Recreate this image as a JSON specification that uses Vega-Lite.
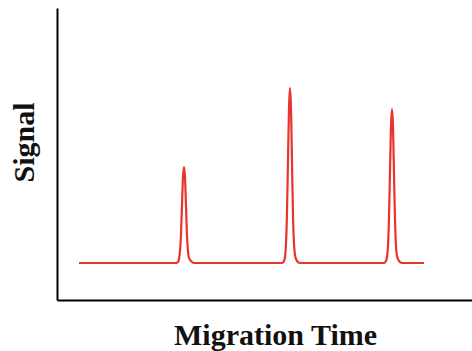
{
  "$schema": "https://vega.github.io/schema/vega-lite/v6.json",
  "autosize": {"type": "none"},
  "width": 415,
  "height": 292,
  "padding": {"left": 57, "top": 8, "right": 0, "bottom": 51},
  "background": "white",
  "config": {"view": {"stroke": null}},
  "data": {"values": [
    {"t": 22, "s": 37}, {"t": 60, "s": 37}, {"t": 100, "s": 37},
    {"t": 119, "s": 37}, {"t": 121, "s": 38}, {"t": 122, "s": 41}, {"t": 123, "s": 49}, {"t": 124, "s": 66}, {"t": 125, "s": 95}, {"t": 126, "s": 123}, {"t": 127, "s": 133}, {"t": 128, "s": 123}, {"t": 129, "s": 94}, {"t": 130, "s": 64}, {"t": 131, "s": 49}, {"t": 132, "s": 42}, {"t": 134, "s": 39}, {"t": 137, "s": 37},
    {"t": 170, "s": 37}, {"t": 200, "s": 37},
    {"t": 225, "s": 37}, {"t": 227, "s": 39}, {"t": 228, "s": 43}, {"t": 229, "s": 56}, {"t": 230, "s": 88}, {"t": 231, "s": 140}, {"t": 232, "s": 192}, {"t": 233, "s": 212}, {"t": 234, "s": 192}, {"t": 235, "s": 138}, {"t": 236, "s": 85}, {"t": 237, "s": 56}, {"t": 238, "s": 45}, {"t": 240, "s": 39}, {"t": 243, "s": 37},
    {"t": 270, "s": 37}, {"t": 300, "s": 37},
    {"t": 327, "s": 37}, {"t": 329, "s": 39}, {"t": 330, "s": 43}, {"t": 331, "s": 54}, {"t": 332, "s": 82}, {"t": 333, "s": 128}, {"t": 334, "s": 174}, {"t": 335, "s": 191}, {"t": 336, "s": 174}, {"t": 337, "s": 126}, {"t": 338, "s": 80}, {"t": 339, "s": 54}, {"t": 340, "s": 44}, {"t": 342, "s": 39}, {"t": 345, "s": 37},
    {"t": 367, "s": 37}
  ]},
  "mark": {"type": "line", "color": "#e8342c", "strokeWidth": 2.2, "interpolate": "monotone"},
  "encoding": {
    "x": {"field": "t", "type": "quantitative", "scale": {"domain": [0, 415], "nice": false, "zero": false},
      "axis": {"title": "Migration Time", "labels": false, "ticks": false, "grid": false, "domain": true, "domainColor": "#000", "domainWidth": 2,
        "titleFont": "Liberation Serif", "titleFontSize": 30, "titleFontWeight": "bold", "titleColor": "#111",
        "titleAlign": "center", "titleAnchor": null, "titleX": 218, "titleY": 44, "titleBaseline": "alphabetic"}},
    "y": {"field": "s", "type": "quantitative", "scale": {"domain": [0, 292], "nice": false, "zero": false},
      "axis": {"title": "Signal", "labels": false, "ticks": false, "grid": false, "domain": true, "domainColor": "#000", "domainWidth": 2,
        "titleFont": "Liberation Serif", "titleFontSize": 30, "titleFontWeight": "bold", "titleColor": "#111",
        "titleAngle": -90, "titleAlign": "center", "titleAnchor": null, "titleX": -24, "titleY": 134, "titleBaseline": "alphabetic"}}
  }
}
